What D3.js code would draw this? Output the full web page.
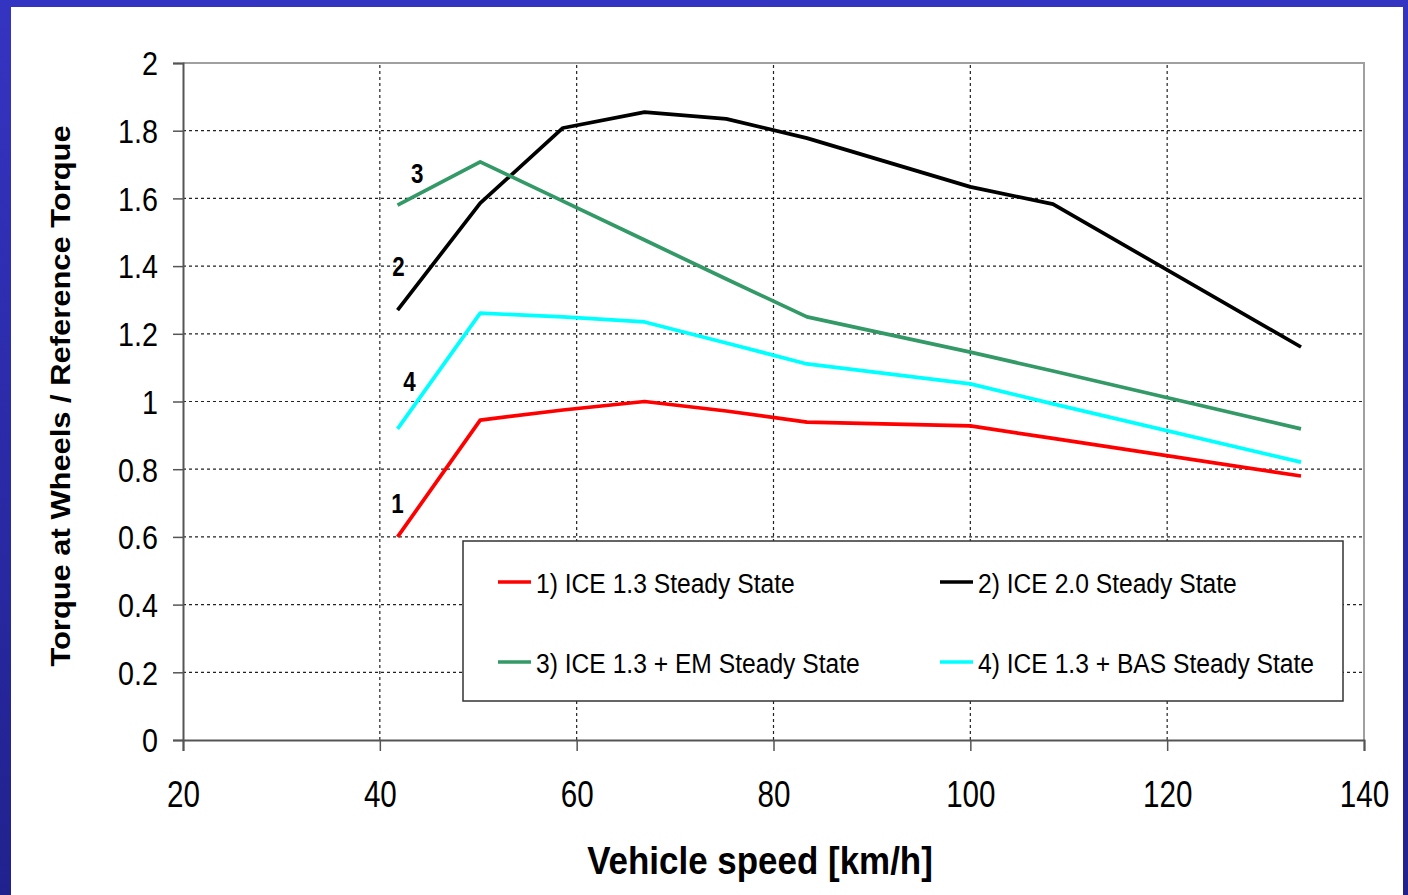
<!DOCTYPE html>
<html>
<head>
<meta charset="utf-8">
<script src="https://cdn.jsdelivr.net/npm/d3@7"></script>
<style>
  body { margin: 0; background: #fff; }
  svg { display: block; font-family: "Liberation Sans", Arial, sans-serif; }
</style>
</head>
<body>
<svg id="vis" width="1408" height="895"></svg>
<script>
var vis = d3.select("#vis");

// data
var speed = [41.8, 50.2, 58.6, 66.9, 75.2, 83.4, 100, 108.4, 133.6];
var ice13 = [0.600, 0.945, 0.975, 1.000, 0.972, 0.939, 0.928, 0.891, 0.780];
var ice20 = [1.270, 1.586, 1.808, 1.855, 1.835, 1.778, 1.634, 1.583, 1.161];
var ice13em = [1.580, 1.708, 1.592, 1.477, 1.362, 1.250, 1.146, 1.090, 0.919];
var ice13bas = [0.919, 1.261, 1.250, 1.235, 1.173, 1.111, 1.052, 0.993, 0.821];

var seriesNames = ["1) ICE 1.3 Steady State", "2) ICE 2.0 Steady State",
                   "3) ICE 1.3 + EM Steady State", "4) ICE 1.3 + BAS Steady State"];
var seriesColors = ["#ff0000", "#000000", "#339966", "#00ffff"];
var seriesValues = [ice13, ice20, ice13em, ice13bas];
var seriesTags = ["1", "2", "3", "4"];
// where the little number tags sit, in data units
var tagX = [41.8, 41.9, 43.8, 43.0];
var tagY = [0.672, 1.37, 1.645, 1.03];

var xTicks = [20, 40, 60, 80, 100, 120, 140];
var yTicks = [0, 0.2, 0.4, 0.6, 0.8, 1, 1.2, 1.4, 1.6, 1.8, 2];
var yTickLabels = ["0", "0.2", "0.4", "0.6", "0.8", "1", "1.2", "1.4", "1.6", "1.8", "2"];

var W = 1408, H = 895;
var x = d3.scaleLinear().domain([20, 140]).range([183, 1364]);
var y = d3.scaleLinear().domain([0, 2]).range([740, 63]);

// blue slide frame
var defs = vis.append("defs");
var grad = defs.append("linearGradient").attr("id", "frame")
    .attr("x1", 0).attr("y1", 0).attr("x2", 0).attr("y2", 1);
grad.append("stop").attr("offset", "0%").attr("stop-color", "#3434c2");
grad.append("stop").attr("offset", "100%").attr("stop-color", "#21218e");
vis.append("rect").attr("width", W).attr("height", H).attr("fill", "url(#frame)");
vis.append("rect").attr("x", 11).attr("y", 7).attr("width", 1392).attr("height", H)
    .attr("fill", "#fff");

// grid
var grid = vis.append("g");
grid.selectAll(".vg").data(xTicks.filter(d => d > 20 && d < 140)).enter().append("line")
    .attr("x1", d => x(d)).attr("x2", d => x(d))
    .attr("y1", y(0)).attr("y2", y(2))
    .attr("stroke", "#222").attr("stroke-width", 1.2).attr("stroke-dasharray", "3,3");
grid.selectAll(".hg").data(yTicks.filter(d => d > 0 && d < 2)).enter().append("line")
    .attr("x1", x(20)).attr("x2", x(140))
    .attr("y1", d => y(d)).attr("y2", d => y(d))
    .attr("stroke", "#222").attr("stroke-width", 1.2).attr("stroke-dasharray", "3,3");

// top/right frame of plot
vis.append("path")
    .attr("d", `M${x(20)},${y(2)}H${x(140)}V${y(0)}`)
    .attr("fill", "none").attr("stroke", "#a0a0a0").attr("stroke-width", 2);

// axes
var yAxis = vis.append("g").attr("transform", `translate(${x(20)},0)`)
    .call(d3.axisLeft(y).tickValues(yTicks).tickSize(10)
        .tickFormat((d, i) => yTickLabels[i]));
var xAxis = vis.append("g").attr("transform", `translate(0,${y(0)})`)
    .call(d3.axisBottom(x).tickValues(xTicks).tickSize(11).tickFormat(d3.format("d")));

[yAxis, xAxis].forEach(function(ax) {
    ax.select(".domain").attr("stroke", "#555").attr("stroke-width", 2);
    ax.selectAll(".tick line").attr("stroke", "#555").attr("stroke-width", 1.5);
    ax.selectAll(".tick text").attr("fill", "#000").attr("font-family", null);
});
yAxis.selectAll(".tick text")
    .attr("font-size", 33)
    .attr("text-anchor", "end")
    .attr("x", -25 / 0.87)
    .attr("dy", "0.36em")
    .attr("transform", "scale(0.87,1)");
xAxis.selectAll(".tick text")
    .attr("font-size", 37)
    .attr("y", 67)
    .attr("dy", 0)
    .attr("transform", "scale(0.8,1)");

// series lines
var line = d3.line().x((d, i) => x(speed[i])).y(d => y(d));
vis.selectAll(".series").data(seriesValues).enter().append("path")
    .attr("class", "series")
    .attr("d", d => line(d))
    .attr("fill", "none")
    .attr("stroke", (d, i) => seriesColors[i])
    .attr("stroke-width", 3.7)
    .attr("stroke-linejoin", "round");

// number tags
vis.selectAll(".tag").data(seriesTags).enter().append("text")
    .attr("class", "tag")
    .attr("transform", (d, i) => `translate(${x(tagX[i])},${y(tagY[i])}) scale(0.8,1)`)
    .attr("text-anchor", "middle")
    .attr("font-size", 28)
    .attr("font-weight", "bold")
    .text(d => d);

// legend
var leg = vis.append("g");
leg.append("rect")
    .attr("x", 463).attr("y", 541).attr("width", 880).attr("height", 160)
    .attr("fill", "#fff").attr("stroke", "#333").attr("stroke-width", 1.5);
var items = leg.selectAll(".item").data(seriesNames).enter().append("g")
    .attr("class", "item")
    .attr("transform", (d, i) => `translate(${i % 2 ? 940 : 498},${i < 2 ? 582 : 662})`);
items.append("line")
    .attr("x1", 0).attr("x2", 33)
    .attr("stroke", (d, i) => seriesColors[i]).attr("stroke-width", 3.5);
items.append("text")
    .attr("transform", "translate(38,11) scale(0.88,1)")
    .attr("font-size", 28)
    .text(d => d);

// axis titles
vis.append("text")
    .attr("transform", "translate(760,874) scale(0.92,1)")
    .attr("text-anchor", "middle")
    .attr("font-size", 38)
    .attr("font-weight", "bold")
    .text("Vehicle speed [km/h]");
vis.append("text")
    .attr("transform", "translate(70,396) rotate(-90) scale(1.03,0.93)")
    .attr("text-anchor", "middle")
    .attr("font-size", 30)
    .attr("font-weight", "bold")
    .text("Torque at Wheels / Reference Torque");
</script>
</body>
</html>
